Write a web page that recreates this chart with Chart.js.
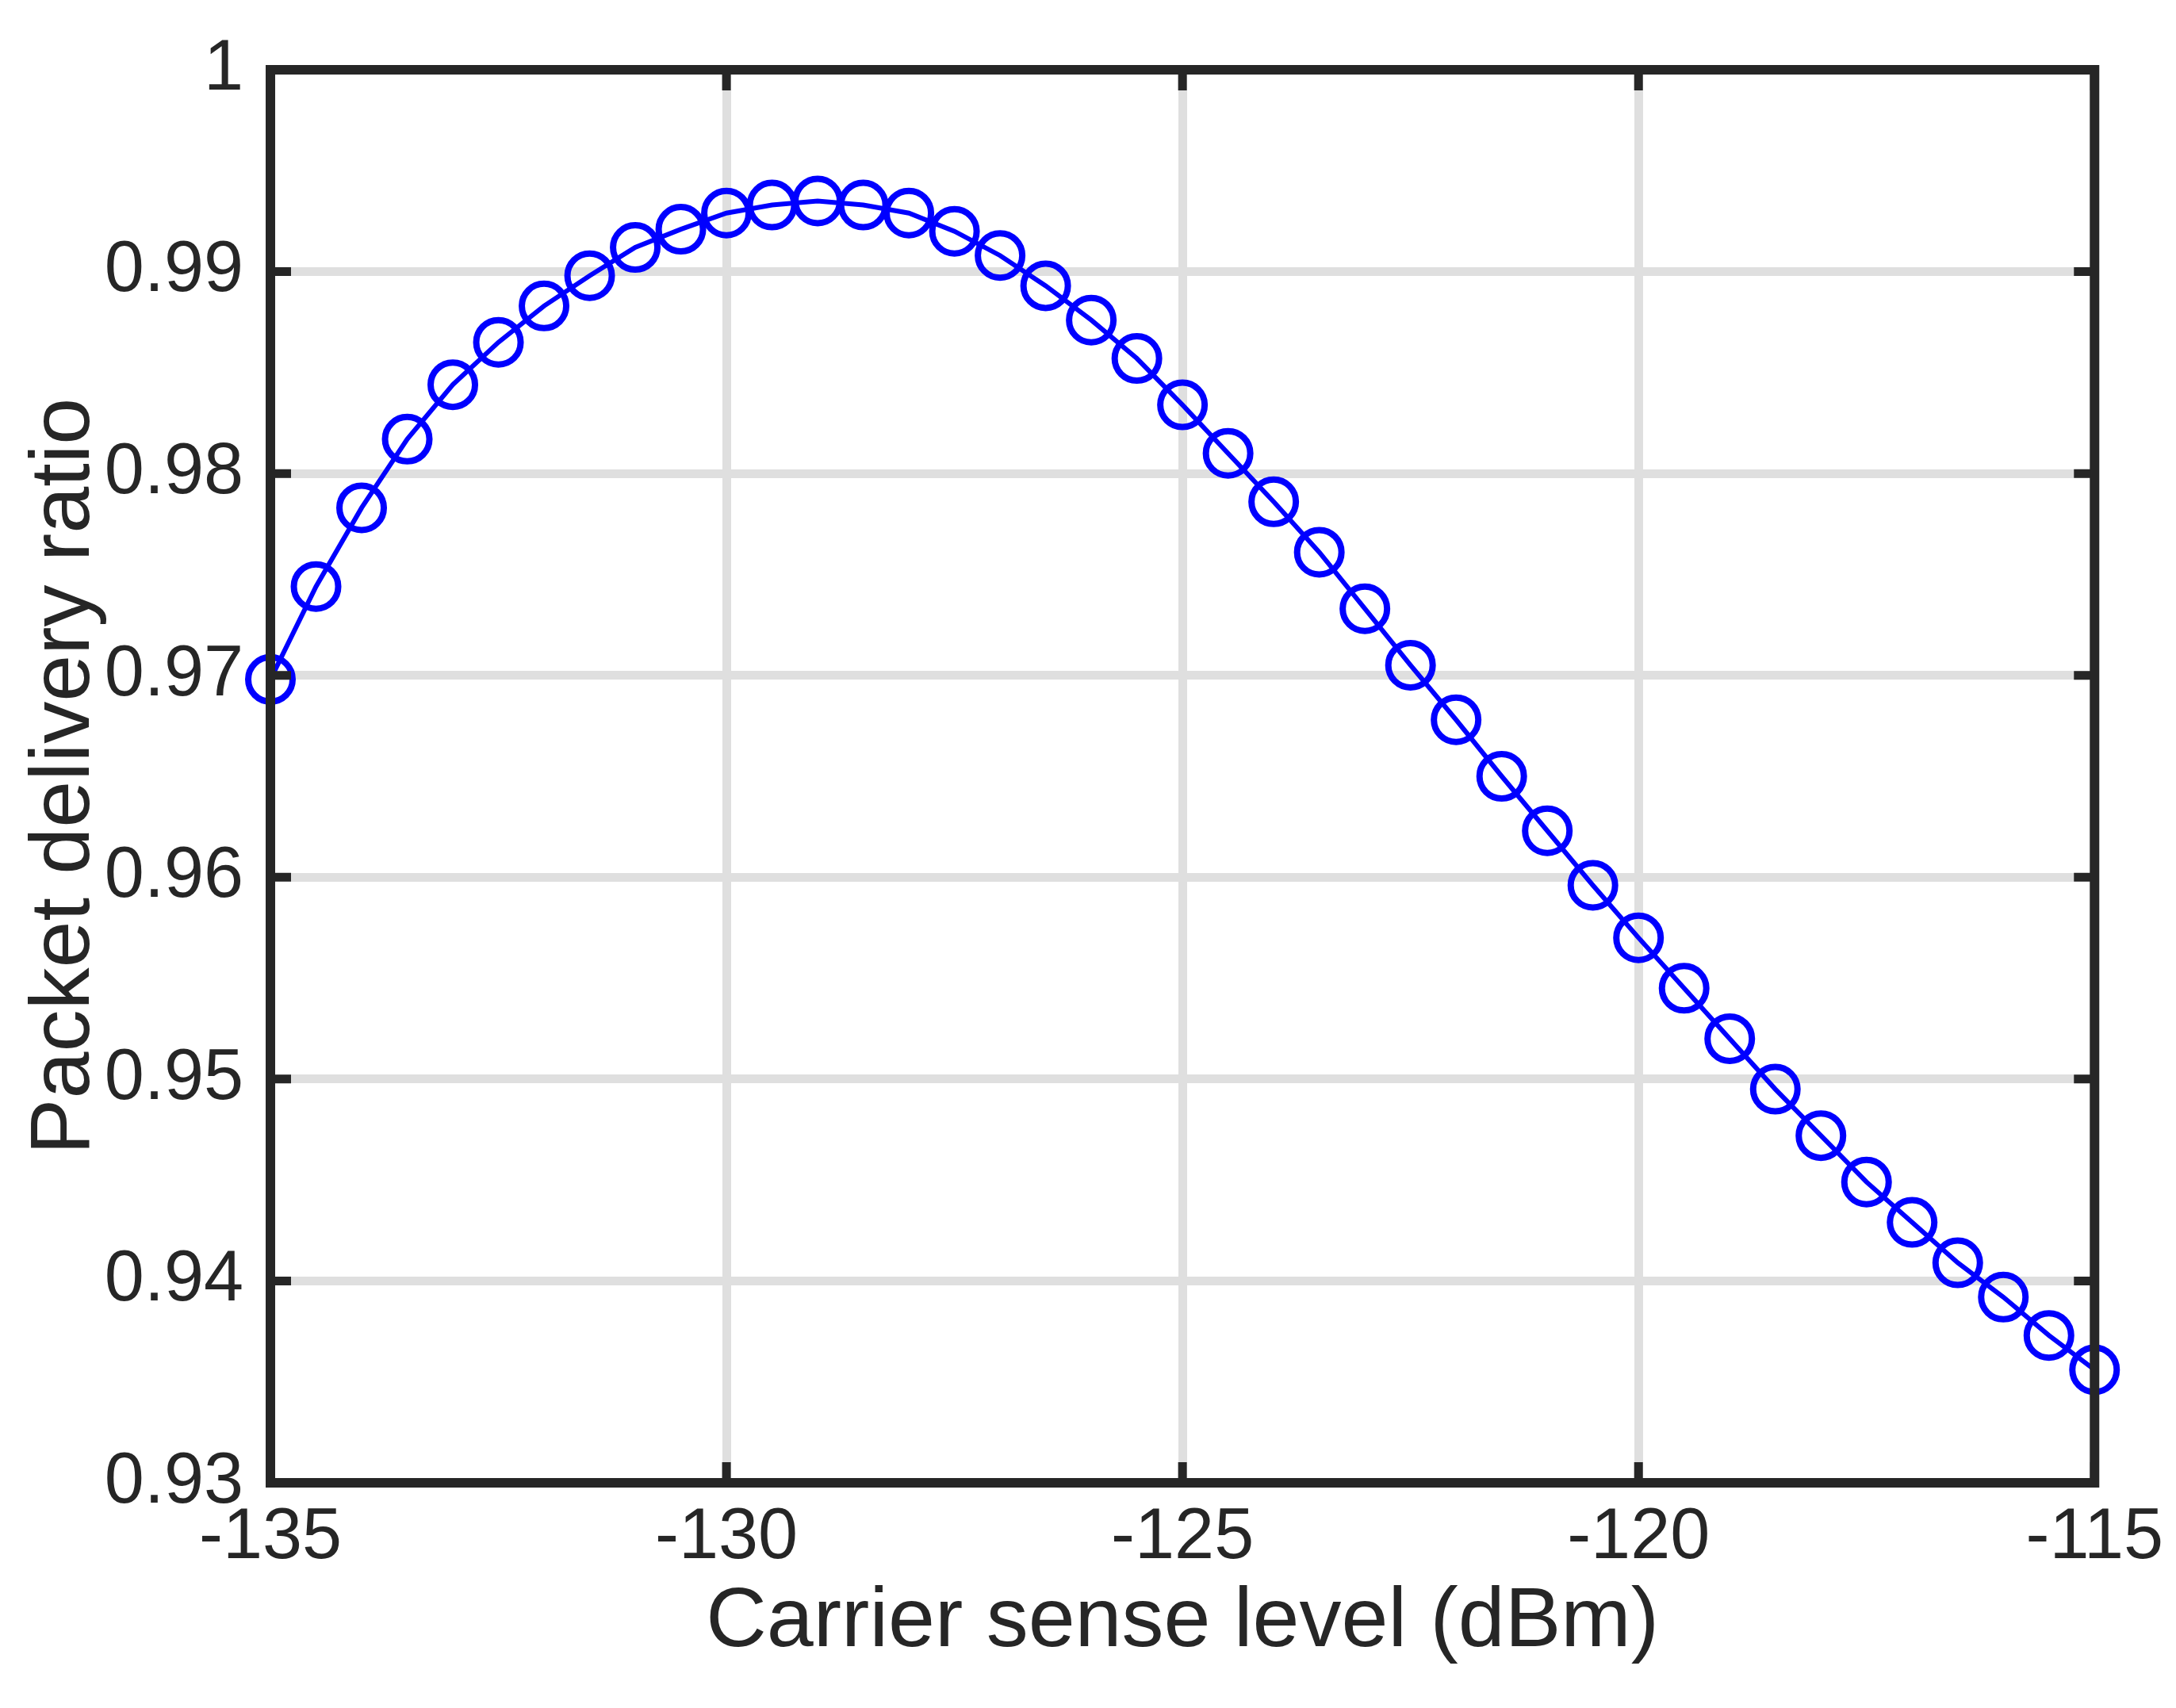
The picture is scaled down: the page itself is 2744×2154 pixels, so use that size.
<!DOCTYPE html>
<html>
<head>
<meta charset="utf-8">
<script src="https://cdn.jsdelivr.net/npm/chart.js@4.4.0/dist/chart.umd.min.js"></script>
<style>
  html, body { margin: 0; padding: 0; background: #fff; }
  #wrap { width: 2744px; height: 2154px; }
</style>
</head>
<body>
<div id="wrap"><canvas id="pdr"></canvas></div>
<script>
const carrierSense = [-135, -134.5, -134, -133.5, -133, -132.5, -132, -131.5, -131, -130.5,
  -130, -129.5, -129, -128.5, -128, -127.5, -127, -126.5, -126, -125.5,
  -125, -124.5, -124, -123.5, -123, -122.5, -122, -121.5, -121, -120.5,
  -120, -119.5, -119, -118.5, -118, -117.5, -117, -116.5, -116, -115.5, -115];
const deliveryRatio = [0.9698, 0.9744, 0.9783, 0.9817, 0.9844, 0.9865, 0.9883, 0.9898, 0.9912, 0.9921,
  0.9929, 0.9933, 0.9935, 0.9933, 0.9929, 0.9920, 0.9908, 0.9893, 0.9876, 0.9857,
  0.9834, 0.9810, 0.9786, 0.9761, 0.9733, 0.9705, 0.9678, 0.9650, 0.9623, 0.9596,
  0.9570, 0.9545, 0.9520, 0.9495, 0.9472, 0.9449, 0.9429, 0.9409, 0.9392, 0.9373, 0.9356];
const xTicks = [-135, -130, -125, -120, -115];
const yTicks = [0.93, 0.94, 0.95, 0.96, 0.97, 0.98, 0.99, 1];

const points = carrierSense.map((x, i) => ({ x: x, y: deliveryRatio[i] }));
const fontFamily = "'Liberation Sans', Arial, sans-serif";

// MATLAB style: inward ticks on all four sides plus a thick box
const boxPlugin = {
  id: "box",
  afterDraw(chart) {
    const { ctx, chartArea: a, scales } = chart;
    ctx.save();
    ctx.strokeStyle = "#262626";
    ctx.lineWidth = 11;
    const len = 26;
    ctx.beginPath();
    xTicks.forEach((v) => {
      const px = scales.x.getPixelForValue(v);
      ctx.moveTo(px, a.bottom); ctx.lineTo(px, a.bottom - len);
      ctx.moveTo(px, a.top); ctx.lineTo(px, a.top + len);
    });
    yTicks.forEach((v) => {
      const py = scales.y.getPixelForValue(v);
      ctx.moveTo(a.left, py); ctx.lineTo(a.left + len, py);
      ctx.moveTo(a.right, py); ctx.lineTo(a.right - len, py);
    });
    ctx.stroke();
    ctx.lineWidth = 12;
    ctx.strokeRect(a.left, a.top, a.right - a.left, a.bottom - a.top);
    ctx.restore();
  },
};

new Chart(document.getElementById("pdr").getContext("2d"), {
  type: "line",
  data: {
    datasets: [{
      data: points,
      borderColor: "#0000ff",
      borderWidth: 6,
      pointRadius: 28,
      pointBorderWidth: 8,
      pointBorderColor: "#0000ff",
      pointBackgroundColor: "rgba(0,0,0,0)",
      tension: 0,
      clip: false,
    }],
  },
  options: {
    responsive: true,
    maintainAspectRatio: false,
    animation: false,
    layout: { padding: { left: 15, right: 102, top: 42, bottom: 40 } },
    plugins: { legend: { display: false }, tooltip: { enabled: false } },
    scales: {
      x: {
        type: "linear",
        min: -135, max: -115,
        afterBuildTicks: (s) => { s.ticks = xTicks.map((v) => ({ value: v })); },
        afterFit: (s) => { s.height = 244; },
        grid: { color: "#dfdfdf", lineWidth: 11, drawTicks: false },
        border: { display: false },
        ticks: { color: "#262626", padding: 16, font: { family: fontFamily, size: 90 } },
        title: { display: true, text: "Carrier sense level (dBm)", color: "#262626", padding: { top: 0 },
          font: { family: fontFamily, size: 106 } },
      },
      y: {
        min: 0.93, max: 1,
        afterBuildTicks: (s) => { s.ticks = yTicks.map((v) => ({ value: v })); },
        afterFit: (s) => { s.width = 326; },
        grid: { color: "#dfdfdf", lineWidth: 11, drawTicks: false },
        border: { display: false },
        ticks: { color: "#262626", padding: 34, font: { family: fontFamily, size: 90 },
          callback: (v) => String(+v.toFixed(2)) },
        title: { display: true, text: "Packet delivery ratio", color: "#262626", padding: { bottom: 0 },
          font: { family: fontFamily, size: 106 } },
      },
    },
  },
  plugins: [boxPlugin],
});
</script>
</body>
</html>
